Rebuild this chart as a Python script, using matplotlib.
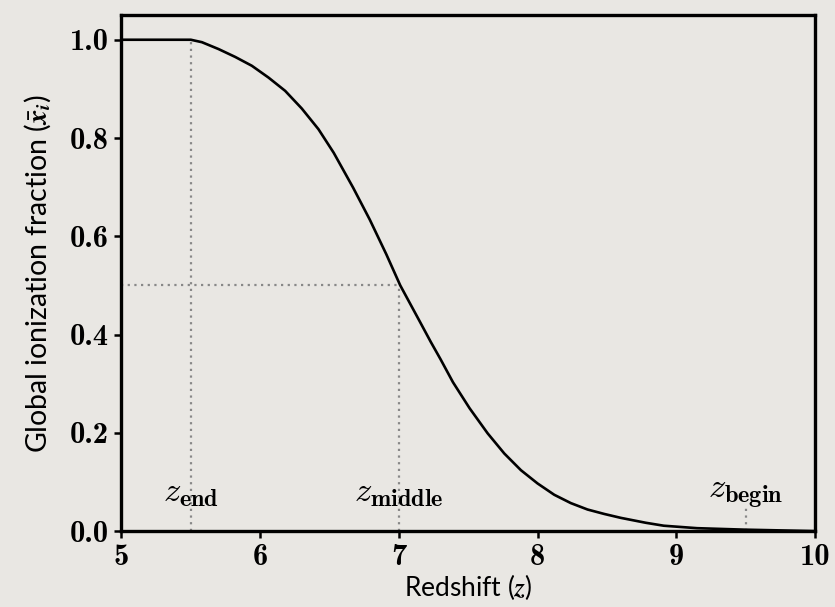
import os
import matplotlib
matplotlib.use("Agg")
import matplotlib.pyplot as plt
from matplotlib import font_manager
from matplotlib.ticker import FixedLocator, FixedFormatter

# Curve (redshift z, global ionization fraction x_i)
redshift = [5.0, 5.5, 5.58, 5.70, 5.82, 5.94, 6.06, 6.18, 6.30, 6.42, 6.53,
            6.67, 6.79, 6.91, 7.01, 7.15, 7.23, 7.30, 7.39, 7.51, 7.64,
            7.76, 7.88, 8.00, 8.12, 8.24, 8.36, 8.48, 8.60, 8.78, 8.91,
            9.15, 9.49, 10.0]
ion_frac = [1.0, 1.0, 0.995, 0.981, 0.965, 0.947, 0.923, 0.896, 0.860, 0.818, 0.770,
            0.699, 0.634, 0.563, 0.500, 0.427, 0.385, 0.350, 0.303, 0.250, 0.199,
            0.158, 0.124, 0.097, 0.074, 0.057, 0.044, 0.035, 0.027, 0.017, 0.011,
            0.006, 0.003, 0.0]

z_end, z_middle, z_begin = 5.5, 7.0, 9.5
x_mid = 0.5
begin_marker_top = 0.05

x_ticks = [5, 6, 7, 8, 9, 10]
x_tick_labels = ["5", "6", "7", "8", "9", "10"]
y_ticks = [0.0, 0.2, 0.4, 0.6, 0.8, 1.0]
y_tick_labels = ["0.0", "0.2", "0.4", "0.6", "0.8", "1.0"]

plt.rcParams["mathtext.fontset"] = "cm"
bg = "#e9e7e3"

# bold Computer Modern shipped with matplotlib
cmb_path = os.path.join(matplotlib.get_data_path(), "fonts", "ttf", "cmb10.ttf")
tick_fp = font_manager.FontProperties(fname=cmb_path, size=22)

fig = plt.figure(figsize=(8.35, 6.07), dpi=100, facecolor=bg)
ax = fig.add_axes([0.1455, 0.125, 0.976 - 0.1455, 0.975 - 0.125])
ax.set_facecolor(bg)

dot_kw = dict(color="#888888", linestyle=(0, (1, 2)), linewidth=1.6, zorder=1)
ax.plot([z_end, z_end], [0, 1.0], **dot_kw)
ax.plot([5, z_middle], [x_mid, x_mid], **dot_kw)
ax.plot([z_middle, z_middle], [0, x_mid], **dot_kw)
ax.plot([z_begin, z_begin], [0, begin_marker_top], **dot_kw)

ax.plot(redshift, ion_frac, color="black", linewidth=1.9, zorder=3,
        solid_joinstyle="round")

ax.set_xlim(5, 10)
ax.set_ylim(0, 1.05)

ax.xaxis.set_major_locator(FixedLocator(x_ticks))
ax.xaxis.set_major_formatter(FixedFormatter(x_tick_labels))
ax.yaxis.set_major_locator(FixedLocator(y_ticks))
ax.yaxis.set_major_formatter(FixedFormatter(y_tick_labels))
ax.tick_params(axis="both", direction="out", length=5, width=1.8, pad=4)
for lab in ax.get_xticklabels() + ax.get_yticklabels():
    lab.set_fontproperties(tick_fp)

for s in ax.spines.values():
    s.set_linewidth(2.4)

ax.set_xlabel(r"Redshift ($\mathbfit{z}$)", labelpad=1, math_fontfamily="stix",
              family="Lato", fontsize=19)
ax.set_ylabel(r"Global ionization fraction ($\bar{\mathbfit{x}}_{\mathbfit{i}}$)",
              labelpad=12, math_fontfamily="stix", family="Lato", fontsize=20.5)

txt_kw = dict(ha="center", va="baseline", fontsize=25, zorder=4)
ax.text(z_end, 0.062, r"$z_{\mathbf{end}}$", **txt_kw)
ax.text(z_middle, 0.062, r"$z_{\mathbf{middle}}$", **txt_kw)
ax.text(z_begin, 0.068, r"$z_{\mathbf{begin}}$", **txt_kw)

fig.savefig("out.png", dpi=100, facecolor=bg)
